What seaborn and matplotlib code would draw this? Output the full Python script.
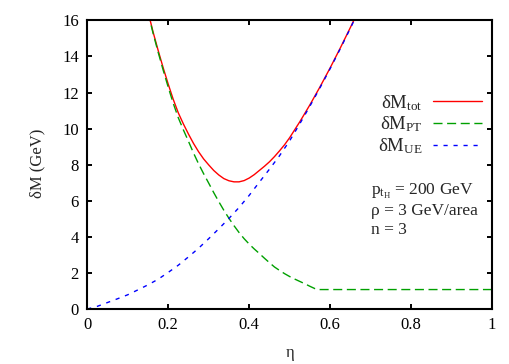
import matplotlib
matplotlib.use("Agg")
import matplotlib.pyplot as plt
import seaborn as sns
import pandas as pd

# ---- data ----
eta_ue = [0.0, 0.025, 0.05, 0.075, 0.1, 0.125, 0.15, 0.175, 0.2, 0.225, 0.25, 0.275,
          0.3, 0.325, 0.35, 0.375, 0.4, 0.425, 0.45, 0.475, 0.5, 0.525, 0.55, 0.575,
          0.6, 0.625, 0.65, 0.675]
dm_ue = [0.0, 0.15, 0.36, 0.57, 0.79, 1.06, 1.34, 1.65, 2.03, 2.43, 2.89, 3.37,
         3.9, 4.45, 5.02, 5.63, 6.3, 7.03, 7.75, 8.5, 9.33, 10.27, 11.25, 12.27,
         13.33, 14.43, 15.57, 16.75]

eta_pt = [0.15, 0.1625, 0.175, 0.1875, 0.2, 0.2125, 0.225, 0.2375, 0.25, 0.2625,
          0.275, 0.2875, 0.3, 0.3125, 0.325, 0.3375, 0.35, 0.3625, 0.375, 0.3875,
          0.4, 0.4125, 0.425, 0.4375, 0.45, 0.4625, 0.475, 0.4875, 0.5, 0.5125,
          0.525, 0.5375, 0.55, 0.5625, 0.572, 1.0]
dm_pt = [16.45, 15.3, 14.25, 13.25, 12.3, 11.4, 10.6, 9.93, 9.3, 8.65,
         8.05, 7.5, 6.98, 6.45, 5.95, 5.47, 5.03, 4.62, 4.24, 3.9,
         3.6, 3.33, 3.08, 2.82, 2.57, 2.33, 2.14, 1.96, 1.8, 1.66,
         1.53, 1.4, 1.26, 1.13, 1.08, 1.08]

eta_tot = [0.15, 0.1625, 0.175, 0.1875, 0.2, 0.2125, 0.225, 0.2375, 0.25, 0.2625,
           0.275, 0.2875, 0.3, 0.3125, 0.325, 0.3375, 0.35, 0.3625, 0.375, 0.3875,
           0.4, 0.4125, 0.425, 0.4375, 0.45, 0.4625, 0.475, 0.4875, 0.5, 0.525,
           0.55, 0.575, 0.6, 0.625, 0.65, 0.675]
dm_tot = [16.5, 15.37, 14.35, 13.38, 12.47, 11.62, 10.87, 10.26, 9.7, 9.18,
          8.72, 8.32, 7.99, 7.68, 7.43, 7.23, 7.11, 7.05, 7.05, 7.12,
          7.26, 7.45, 7.68, 7.91, 8.16, 8.45, 8.77, 9.11, 9.5, 10.38,
          11.32, 12.32, 13.37, 14.47, 15.61, 16.78]

x_ticks = [0, 0.2, 0.4, 0.6, 0.8, 1]
x_ticklabels = ["0", "0.2", "0.4", "0.6", "0.8", "1"]
y_ticks = [0, 2, 4, 6, 8, 10, 12, 14, 16]

labels = [r"δM$_{\rm tot}$", r"δM$_{\rm PT}$", r"δM$_{\rm UE}$"]
info_lines = [r"p$_{\rm t_H}$ = 200 GeV", "ρ = 3 GeV/area", "n = 3"]

# ---- style ----
sns.set_theme(style="ticks")
plt.rcParams["font.family"] = ["Liberation Serif", "DejaVu Serif"]
plt.rcParams["mathtext.fontset"] = "custom"
plt.rcParams["mathtext.rm"] = "Liberation Serif"
plt.rcParams["mathtext.it"] = "Liberation Serif:italic"
FS = 12

fig = plt.figure(figsize=(5.1, 3.64), dpi=100)
ax = fig.add_axes([0.171, 0.151, 0.794, 0.793])

df_tot = pd.DataFrame({"eta": eta_tot, "dM": dm_tot})
df_pt = pd.DataFrame({"eta": eta_pt, "dM": dm_pt})
df_ue = pd.DataFrame({"eta": eta_ue, "dM": dm_ue})

sns.lineplot(data=df_tot, x="eta", y="dM", ax=ax, color="#ff0000", lw=1.0,
             label=labels[0], sort=True)
sns.lineplot(data=df_pt, x="eta", y="dM", ax=ax, color="#00a000", lw=1.0,
             linestyle=(0, (6.5, 3.3)), label=labels[1], sort=True)
sns.lineplot(data=df_ue, x="eta", y="dM", ax=ax, color="#0000ff", lw=1.0,
             linestyle=(0, (3.0, 4.2)), label=labels[2], sort=True)

ax.set_xlim(0, 1)
ax.set_ylim(0, 16)
ax.set_xticks(x_ticks)
ax.set_xticklabels(x_ticklabels)
ax.set_yticks(y_ticks)
for s in ax.spines.values():
    s.set_linewidth(1.5)
    s.set_color("black")
ax.tick_params(direction="in", length=3.5, width=1.4, top=True, right=True,
               labelsize=FS, colors="black")
ax.tick_params(axis="y", pad=6)
ax.tick_params(axis="x", pad=6)

ax.set_xlabel("η", fontsize=FS)
ax.set_ylabel("δM (GeV)", fontsize=FS)
ax.xaxis.set_label_coords(0.5, -0.125)
ax.yaxis.set_label_coords(-0.104, 0.505)

leg = ax.legend(loc="upper right", bbox_to_anchor=(482 / 510, 1 - 93 / 364),
                bbox_transform=fig.transFigure, frameon=False, markerfirst=False,
                fontsize=13.5, handlelength=2.6, handletextpad=0.55,
                labelspacing=0.1, borderpad=0, borderaxespad=0)

for i, t in enumerate(info_lines):
    ax.text(371 / 510, 1 - (191 + 19.5 * i) / 364, t, transform=fig.transFigure,
            ha="left", va="center", fontsize=12.5)

fig.savefig("out.png", dpi=100)
